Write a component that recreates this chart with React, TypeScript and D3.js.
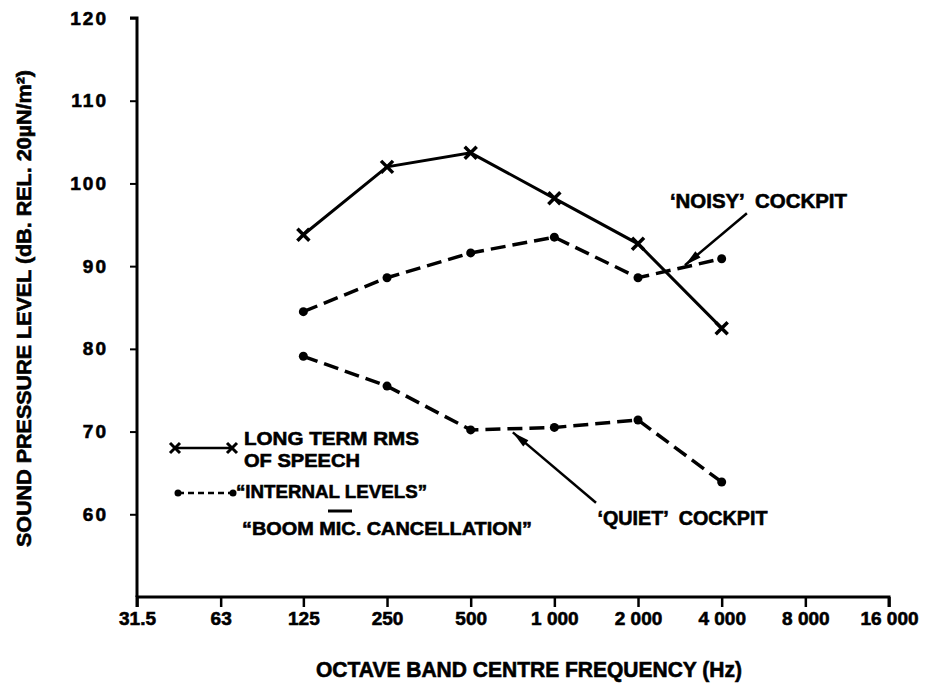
import React, { useEffect, useRef } from "react";
import * as d3 from "d3";

// octave band centre frequencies (Hz) where points were measured
const freqs = [125, 250, 500, 1000, 2000, 4000];
// long term RMS of speech
const speechRms = [93.8, 102.0, 103.7, 98.2, 92.7, 82.5];
// internal levels - boom mic cancellation, 'noisy' cockpit
const noisyCockpit = [84.5, 88.6, 91.6, 93.5, 88.6, 90.9];
// internal levels - boom mic cancellation, 'quiet' cockpit
const quietCockpit = [79.1, 75.5, 70.2, 70.5, 71.4, 63.9];

const xTicks = [31.5, 63, 125, 250, 500, 1000, 2000, 4000, 8000, 16000];
const xTickLabels = ["31.5", "63", "125", "250", "500", "1 000", "2 000", "4 000", "8 000", "16 000"];
const yTicks = [60, 70, 80, 90, 100, 110, 120];

const width = 928;
const height = 686;
const font = "'Liberation Sans', Arial, Helvetica, sans-serif";

export default function App() {
  const ref = useRef<SVGSVGElement>(null);

  useEffect(() => {
    const svg = d3.select(ref.current);
    svg.selectAll("*").remove();

    const x = d3.scaleLog().base(2).domain([31.5, 16000]).range([137, 889]);
    const y = d3.scaleLinear().domain([50, 120]).range([597, 18]);

    // bold print look: a thin outline makes the glyphs heavier
    const ink = (sel: any) =>
      sel.attr("font-family", font)
        .attr("font-weight", "bold")
        .attr("fill", "#000")
        .attr("stroke", "#000")
        .attr("stroke-width", 0.6);

    // axes
    const xAxis = d3.axisBottom(x)
      .tickValues(xTicks)
      .tickFormat((d, i) => xTickLabels[i])
      .tickSize(10)
      .tickPadding(5);
    const gx = svg.append("g").attr("transform", `translate(0, ${y(50)})`).call(xAxis);
    gx.select(".domain").attr("d", `M${x(31.5)},10V0H${x(16000)}V10`).attr("stroke-width", 3);
    gx.selectAll(".tick line").attr("stroke-width", 2.5);
    gx.selectAll(".tick text").call(ink).attr("font-size", 19);

    const yAxis = d3.axisLeft(y).tickValues(yTicks).tickSize(7).tickPadding(22);
    const gy = svg.append("g").attr("transform", `translate(${x(31.5)}, 0)`).call(yAxis);
    gy.select(".domain").attr("d", `M-7,${y(120)}H0V${y(50)}`).attr("stroke-width", 3);
    gy.selectAll(".tick line").attr("stroke-width", 2);
    gy.selectAll(".tick text")
      .call(ink)
      .attr("font-size", 19)
      .attr("letter-spacing", 2);
    svg.selectAll(".domain").attr("stroke", "#000");
    svg.selectAll(".tick line").attr("stroke", "#000");

    // axis titles
    svg.append("text")
      .text("OCTAVE BAND CENTRE FREQUENCY (Hz)")
      .attr("x", 316)
      .attr("y", 677)
      .attr("textLength", 426)
      .attr("lengthAdjust", "spacingAndGlyphs")
      .attr("font-size", 22)
      .call(ink);

    svg.append("text")
      .text("SOUND PRESSURE LEVEL (dB. REL. 20\u00b5N/m\u00b2)")
      .attr("transform", "translate(31, 547) rotate(-90)")
      .attr("textLength", 477)
      .attr("lengthAdjust", "spacingAndGlyphs")
      .attr("font-size", 20)
      .call(ink);

    const line = d3.line<number>()
      .x((d, i) => x(freqs[i]))
      .y((d) => y(d));

    // dashed curves with dots
    [noisyCockpit, quietCockpit].forEach((series) => {
      svg.append("path")
        .datum(series)
        .attr("d", line)
        .attr("fill", "none")
        .attr("stroke", "#000")
        .attr("stroke-width", 3.5)
        .attr("stroke-dasharray", "15,7");
      svg.append("g")
        .selectAll("circle")
        .data(series)
        .enter()
        .append("circle")
        .attr("cx", (d, i) => x(freqs[i]))
        .attr("cy", (d) => y(d))
        .attr("r", 4.5)
        .attr("fill", "#000");
    });

    // speech: solid line with crosses
    svg.append("path")
      .datum(speechRms)
      .attr("d", line)
      .attr("fill", "none")
      .attr("stroke", "#000")
      .attr("stroke-width", 3);

    const cross = "M-6,-6L6,6M-6,6L6,-6";
    svg.append("g")
      .selectAll("path")
      .data(speechRms)
      .enter()
      .append("path")
      .attr("transform", (d, i) => `translate(${x(freqs[i])}, ${y(d)})`)
      .attr("d", cross)
      .attr("stroke", "#000")
      .attr("stroke-width", 3.5);

    // annotations (frequency, level)
    const arrows = [
      { from: [4930, 96.4], to: [2950, 90.1] },
      { from: [1412, 61.4], to: [709, 69.9] },
    ];
    arrows.forEach(({ from, to }) => {
      const x1 = x(from[0]), y1 = y(from[1]);
      const x2 = x(to[0]), y2 = y(to[1]);
      const ang = Math.atan2(y2 - y1, x2 - x1);
      svg.append("line")
        .attr("x1", x1).attr("y1", y1)
        .attr("x2", x2).attr("y2", y2)
        .attr("stroke", "#000")
        .attr("stroke-width", 2.5);
      svg.append("path")
        .attr("d", "M0,0L-17,-4L-17,4Z")
        .attr("transform", `translate(${x2}, ${y2}) rotate(${(ang * 180) / Math.PI})`)
        .attr("fill", "#000");
    });

    const notes = [
      { text: "\u2018NOISY\u2019  COCKPIT", f: 2605, v: 97.0, len: 177 },
      { text: "\u2018QUIET\u2019  COCKPIT", f: 1430, v: 58.7, len: 170 },
    ];
    notes.forEach((n) => {
      svg.append("text")
        .text(n.text)
        .attr("x", x(n.f))
        .attr("y", y(n.v))
        .attr("textLength", n.len)
        .attr("lengthAdjust", "spacingAndGlyphs")
        .attr("font-size", 20)
        .style("white-space", "pre")
        .call(ink);
    });

    // legend
    const lg = svg.append("g");
    lg.append("line")
      .attr("x1", 175).attr("y1", 448).attr("x2", 232).attr("y2", 448)
      .attr("stroke", "#000").attr("stroke-width", 2.5);
    [175, 232].forEach((cx) => {
      lg.append("path")
        .attr("transform", `translate(${cx}, 448)`)
        .attr("d", "M-5,-5L5,5M-5,5L5,-5")
        .attr("stroke", "#000")
        .attr("stroke-width", 3);
    });
    lg.append("line")
      .attr("x1", 178).attr("y1", 493).attr("x2", 233).attr("y2", 493)
      .attr("stroke", "#000").attr("stroke-width", 2.5)
      .attr("stroke-dasharray", "6,4");
    [178, 233].forEach((cx) => {
      lg.append("circle").attr("cx", cx).attr("cy", 493).attr("r", 3.5).attr("fill", "#000");
    });

    const legendText = [
      { text: "LONG TERM RMS", x: 244, y: 445, len: 175 },
      { text: "OF SPEECH", x: 244, y: 467, len: 116 },
      { text: "\u201cINTERNAL LEVELS\u201d", x: 236, y: 498, len: 191 },
      { text: "\u201cBOOM MIC. CANCELLATION\u201d", x: 242, y: 535, len: 290 },
    ];
    legendText.forEach((t) => {
      lg.append("text")
        .text(t.text)
        .attr("x", t.x)
        .attr("y", t.y)
        .attr("textLength", t.len)
        .attr("lengthAdjust", "spacingAndGlyphs")
        .attr("font-size", 19)
        .call(ink);
    });
    lg.append("line")
      .attr("x1", 328).attr("y1", 511).attr("x2", 352).attr("y2", 511)
      .attr("stroke", "#000").attr("stroke-width", 3);
  }, []);

  return (
    <svg
      ref={ref}
      width={width}
      height={height}
      style={{ position: "absolute", left: 0, top: 0, background: "#fff" }}
    />
  );
}
